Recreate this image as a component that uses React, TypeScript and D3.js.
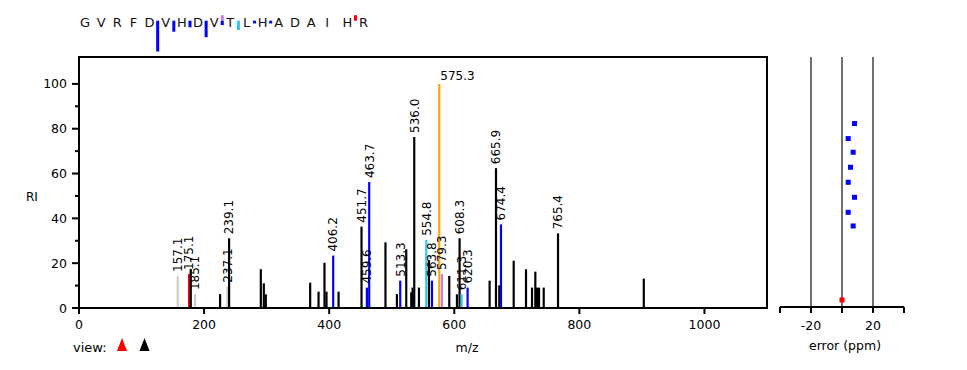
import React from 'react';
import * as d3 from 'd3';

// ---- data ----
const peakMz = [157.9, 176.0, 178.7, 185.6, 225.6, 237.3, 240.0, 290.7, 295.5, 298.7, 369.6, 383.0, 392.5, 395.7, 406.4, 415.0, 451.7, 460.3, 464.0, 490.0, 508.3, 513.6, 523.2, 531.2, 533.3, 536.0, 543.5, 555.2, 559.5, 564.3, 576.0, 580.3, 592.0, 604.3, 608.5, 611.7, 621.3, 656.5, 666.7, 672.0, 674.7, 695.0, 714.7, 724.3, 729.6, 732.3, 735.5, 743.0, 765.9, 903.0];
const peakRI = [14.3, 15.2, 17.3, 6.2, 6.2, 9.5, 31.1, 17.3, 11.0, 6.1, 11.3, 7.3, 20.2, 7.3, 23.4, 7.3, 36.3, 9.1, 56.2, 29.3, 6.2, 12.2, 26.2, 7.0, 9.1, 76.3, 9.1, 30.4, 21.4, 12.2, 100, 15.2, 14.3, 6.1, 31.1, 6.1, 9.1, 12.2, 62.4, 10.1, 37.3, 21.1, 17.3, 9.1, 16.2, 9.1, 9.1, 9.1, 33.3, 13.1];
const peakType = ['g', 'r', 'k', 'g', 'k', 'g', 'k', 'k', 'k', 'k', 'k', 'k', 'k', 'k', 'b', 'k', 'k', 'b', 'b', 'k', 'k', 'b', 'k', 'k', 'k', 'k', 'k', 'c', 'k', 'b', 'o', 'v', 'k', 'k', 'k', 'c', 'b', 'k', 'k', 'k', 'b', 'k', 'k', 'k', 'k', 'k', 'k', 'k', 'k', 'k'];
const peakLabel = ['157.1', '175.1', '', '185.1', '', '237.1', '239.1', '', '', '', '', '', '', '', '406.2', '', '451.7', '459.6', '463.7', '', '', '513.3', '', '', '', '536.0', '', '554.8', '', '563.8', '575.3', '579.3', '', '', '608.3', '611.3', '620.3', '', '665.9', '', '674.4', '', '', '', '', '', '', '', '765.4', ''];

const xTicks = [0, 200, 400, 600, 800, 1000];
const yTicks = [0, 10, 20, 30, 40, 50, 60, 70, 80, 90, 100];
const yLabelTicks = [0, 20, 40, 60, 80, 100];

const errTicks = [-40, -20, 0, 20, 40];
const errLabelTicks = [-20, 20];
const errGrid = [-20, 0, 20];
const errPpm = [8.1, 4.0, 7.2, 5.5, 4.0, 8.1, 4.0, 7.2, 0];
const errRI = [82.3, 75.6, 69.5, 62.8, 56.1, 49.4, 42.7, 36.6, 3.6];
const errType = ['b', 'b', 'b', 'b', 'b', 'b', 'b', 'b', 'r'];

const seqLetters = 'GVRFDVHDVTLHADAIHR'.split('');
const markGap = [4, 5, 6, 7, 8, 8, 9, 10, 11, 16];
const markDir = ['down', 'down', 'down', 'down', 'up', 'down', 'down', 'down', 'down', 'up'];
const markType = ['b', 'b', 'b', 'b', 'v', 'b', 'c', 'b', 'b', 'r'];
const markValue = [56, 20, 12, 30, 10, 8, 17, 5, 5, 10];

const colors: Record<string, string> = {
  k: '#000000',
  b: '#0000ff',
  r: '#ff0000',
  g: '#cccccc',
  c: '#2ec8f0',
  o: '#ffa500',
  v: '#cc77ee',
};

const FONT = '"DejaVu Sans", Verdana, sans-serif';

export default function App() {
  const W = 967, H = 370;
  const left = 79, right = 767, top = 57, bottom = 308;
  const x = d3.scaleLinear().domain([0, 1100]).range([left, right]);
  const y = d3.scaleLinear().domain([0, 112]).range([bottom, top]);
  const ex = d3.scaleLinear().domain([-40, 40]).range([780, 904]);
  const seqX = (i: number) => 85 + 16.15 * i + (i >= 16 ? 4 : 0);
  const markLen = d3.scaleLinear().domain([0, 100]).range([0, 55]);
  const markY = 20.7;

  return (
    <svg width={W} height={H} style={{ position: 'absolute', left: 0, top: 0, background: '#fff' }} fontFamily={FONT}>
      {/* sequence */}
      {seqLetters.map((l, i) => (
        <text key={'s' + i} x={seqX(i)} y={27} fontSize={13} textAnchor="middle" fill="#111">{l}</text>
      ))}
      {markGap.map((g, i) => {
        const mx = (seqX(g) + seqX(g + 1)) / 2;
        const len = Math.max(2.7, markLen(markValue[i]));
        const y0 = markDir[i] === 'down' ? markY : markY - len;
        return <rect key={'m' + i} x={mx - 1.5} y={y0} width={3} height={len} fill={colors[markType[i]]} />;
      })}

      {/* peaks */}
      {peakMz.map((m, i) => (
        <line key={'p' + i} x1={x(m)} x2={x(m)} y1={y(0)} y2={y(peakRI[i])} stroke={colors[peakType[i]]} strokeWidth={2.2} />
      ))}
      {peakMz.map((m, i) => {
        const lab = peakLabel[i];
        if (!lab) return null;
        const px = x(m), py = y(peakRI[i]);
        if (peakRI[i] >= 99) {
          return <text key={'l' + i} x={px + 1} y={py - 4} fontSize={12} fill="#000">{lab}</text>;
        }
        return (
          <text key={'l' + i} transform={`translate(${px + 4.3},${py - 4}) rotate(-90)`} fontSize={12} fill="#000">{lab}</text>
        );
      })}

      {/* frame */}
      <path d={`M${left},${bottom}V${top}H${right}V${bottom}`} fill="none" stroke="#000" strokeWidth={2} />
      <line x1={left} x2={right + 1} y1={bottom} y2={bottom} stroke="#000" strokeWidth={2} />

      {/* y axis ticks */}
      {yTicks.map(t => (
        <line key={'yt' + t} x1={left - (t % 20 === 0 ? 7 : 4)} x2={left} y1={y(t)} y2={y(t)} stroke="#000" strokeWidth={2} />
      ))}
      {yLabelTicks.map(t => (
        <text key={'yl' + t} x={left - 12} y={y(t) + 4.5} fontSize={12.5} textAnchor="end" fill="#000">{t}</text>
      ))}
      <text x={26} y={201} fontSize={12} fill="#000">RI</text>

      {/* x axis ticks */}
      {xTicks.map(t => (
        <line key={'xt' + t} x1={x(t)} x2={x(t)} y1={bottom} y2={bottom + 6} stroke="#000" strokeWidth={2} />
      ))}
      {xTicks.map(t => (
        <text key={'xl' + t} x={x(t)} y={329} fontSize={12.5} textAnchor="middle" fill="#000">{t}</text>
      ))}
      <text x={467} y={352} fontSize={12.5} textAnchor="middle" fill="#000">m/z</text>

      {/* view controls */}
      <text x={73} y={352} fontSize={13} fill="#000">view:</text>
      <path d="M117,351L122,338L127,351Z" fill="#ff0000" />
      <path d="M139.5,351L144.5,338L149.5,351Z" fill="#000" />

      {/* error panel */}
      {errGrid.map(t => (
        <line key={'eg' + t} x1={ex(t)} x2={ex(t)} y1={top} y2={bottom - 1} stroke="#222" strokeWidth={1.3} />
      ))}
      <line x1={ex(-40)} x2={ex(40)} y1={bottom - 1} y2={bottom - 1} stroke="#000" strokeWidth={2} />
      {errTicks.map(t => (
        <line key={'et' + t} x1={ex(t)} x2={ex(t)} y1={bottom - 1} y2={bottom + 5} stroke="#000" strokeWidth={2} />
      ))}
      {errLabelTicks.map(t => (
        <text key={'el' + t} x={ex(t)} y={330} fontSize={12.5} textAnchor="middle" fill="#000">{t}</text>
      ))}
      <text x={845} y={350} fontSize={12.5} textAnchor="middle" fill="#000">error (ppm)</text>
      {errPpm.map((e, i) => (
        <rect key={'ep' + i} x={ex(e) - 2.5} y={y(errRI[i]) - 2.5} width={5} height={5} fill={colors[errType[i]]} />
      ))}
    </svg>
  );
}
